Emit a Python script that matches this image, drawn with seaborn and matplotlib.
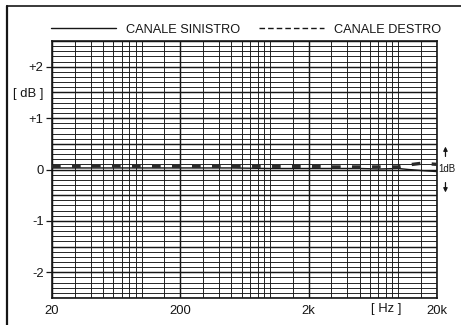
import numpy as np
import pandas as pd
import matplotlib
matplotlib.use("Agg")
import matplotlib.pyplot as plt
from matplotlib.lines import Line2D
from matplotlib.ticker import FixedLocator, FuncFormatter
import seaborn as sns

# ---- data ----
freq_hz = [20, 30, 50, 100, 200, 500, 1000, 2000, 3000, 5000, 7000, 10000, 12000, 15000, 20000]
left_db = [0.03, 0.03, 0.03, 0.03, 0.03, 0.03, 0.02, 0.02, 0.02, 0.02, 0.01, 0.02, 0.0, -0.02, -0.04]
right_db = [0.06, 0.06, 0.07, 0.06, 0.06, 0.06, 0.06, 0.06, 0.05, 0.05, 0.05, 0.05, 0.09, 0.12, 0.10]
series_names = ["CANALE SINISTRO", "CANALE DESTRO"]
x_tick_values = [20, 200, 2000, 20000]
x_tick_labels = ["20", "200", "2k", "20k"]
x_grid_values = [30, 40, 50, 60, 70, 80, 90, 100, 150,
                 300, 400, 500, 600, 700, 800, 900, 1000, 1500,
                 3000, 4000, 5000, 6000, 7000, 8000, 9000, 10000, 15000]
y_major_values = [-2.5, -2.0, -1.5, -1.0, -0.5, 0.0, 0.5, 1.0, 1.5, 2.0, 2.5]
y_label_map = {2.0: "+2", 1.5: "[ dB ]", 1.0: "+1", 0.0: "0", -1.0: "-1", -2.0: "-2"}
hz_label_pos = 8000
hz_label = "[ Hz ]"

sns.set_theme(style="white")
plt.rcParams["font.family"] = ["Liberation Sans", "DejaVu Sans"]

INK = "#161616"
fig = plt.figure(figsize=(4.61, 3.25), dpi=100)
ax = fig.add_axes([52 / 461, 1 - 298 / 325, 385 / 461, 257 / 325])

df = pd.DataFrame({
    "freq": freq_hz * 2,
    "db": left_db + right_db,
    "canale": [series_names[0]] * len(freq_hz) + [series_names[1]] * len(freq_hz),
})
sns.lineplot(data=df[df.canale == series_names[0]], x="freq", y="db", ax=ax,
             color=INK, lw=1.0, zorder=5, legend=False)
sns.lineplot(data=df[df.canale == series_names[1]], x="freq", y="db", ax=ax,
             color="#2a2a2a", lw=2.4, dashes=False, zorder=6, legend=False)
ax.lines[-1].set_linestyle((0, (2.6, 3.4)))

ax.set_xscale("log")
ax.set_xlim(20, 20000)
ax.set_ylim(-2.5, 2.5)

ax.xaxis.set_major_locator(FixedLocator(x_tick_values))
ax.xaxis.set_major_formatter(FuncFormatter(lambda v, p: dict(zip(x_tick_values, x_tick_labels)).get(round(v), "")))
ax.xaxis.set_minor_locator(FixedLocator(x_grid_values))
ax.xaxis.set_minor_formatter(FuncFormatter(lambda v, p: ""))

ax.yaxis.set_major_locator(FixedLocator(y_major_values))
ax.yaxis.set_major_formatter(FuncFormatter(lambda v, p: y_label_map.get(round(v, 1), "")))
ax.yaxis.set_minor_locator(FixedLocator(np.round(np.arange(-2.5, 2.51, 0.1), 1)))

ax.grid(which="major", color=INK, lw=1.05)
ax.grid(which="minor", color=INK, lw=0.65)
ax.set_axisbelow(True)

ax.tick_params(axis="x", which="both", length=0, pad=5, labelsize=9.4, colors=INK)
ax.tick_params(axis="y", which="major", length=4, width=0.9, pad=2, labelsize=9.4, colors=INK, direction="out", left=True)
ax.tick_params(axis="y", which="minor", length=0)
for v, t in zip(ax.get_yticks(), ax.yaxis.get_major_ticks()):
    if abs(v - round(v)) > 1e-6 or abs(v) > 2.2:
        t.tick1line.set_visible(False)

for s in ax.spines.values():
    s.set_color(INK)
    s.set_linewidth(1.2)
ax.set_xlabel("")
ax.set_ylabel("")

# [ Hz ] label below the x-axis
ax.text(hz_label_pos, -0.02, hz_label, transform=ax.get_xaxis_transform(),
        ha="center", va="top", fontsize=9.4, color=INK)

# legend
handles = [Line2D([], [], color=INK, lw=1.0),
           Line2D([], [], color=INK, lw=1.0, ls=(0, (4, 2.2)))]
ax.legend(handles, series_names, loc="lower left", bbox_to_anchor=(-6 / 385, 1.0),
          ncol=2, frameon=False, fontsize=9.2, handlelength=5.1, handletextpad=0.8,
          columnspacing=1.4, borderpad=0.0, borderaxespad=0.4, labelcolor=INK)

# 1 dB scale marker on the right
ax.annotate("", xy=(1.022, 0.5), xytext=(1.022, 0.2), xycoords=ax.get_yaxis_transform(),
            textcoords=ax.get_yaxis_transform(),
            arrowprops=dict(arrowstyle="-|>", color=INK, lw=0.9, mutation_scale=6))
ax.annotate("", xy=(1.022, -0.5), xytext=(1.022, -0.2), xycoords=ax.get_yaxis_transform(),
            textcoords=ax.get_yaxis_transform(),
            arrowprops=dict(arrowstyle="-|>", color=INK, lw=0.9, mutation_scale=6))
ax.text(1.025, 0.0, "1dB", transform=ax.get_yaxis_transform(), ha="center", va="center",
        fontsize=7, color=INK)

# outer frame (top and left edges visible in the scan)
fig.add_artist(Line2D([7 / 461, 1.0], [1 - 6 / 325, 1 - 6 / 325], color=INK, lw=1.2))
fig.add_artist(Line2D([7 / 461, 7 / 461], [0.0, 1 - 6 / 325], color=INK, lw=1.6))

fig.savefig("out.png", dpi=100, facecolor="white")
